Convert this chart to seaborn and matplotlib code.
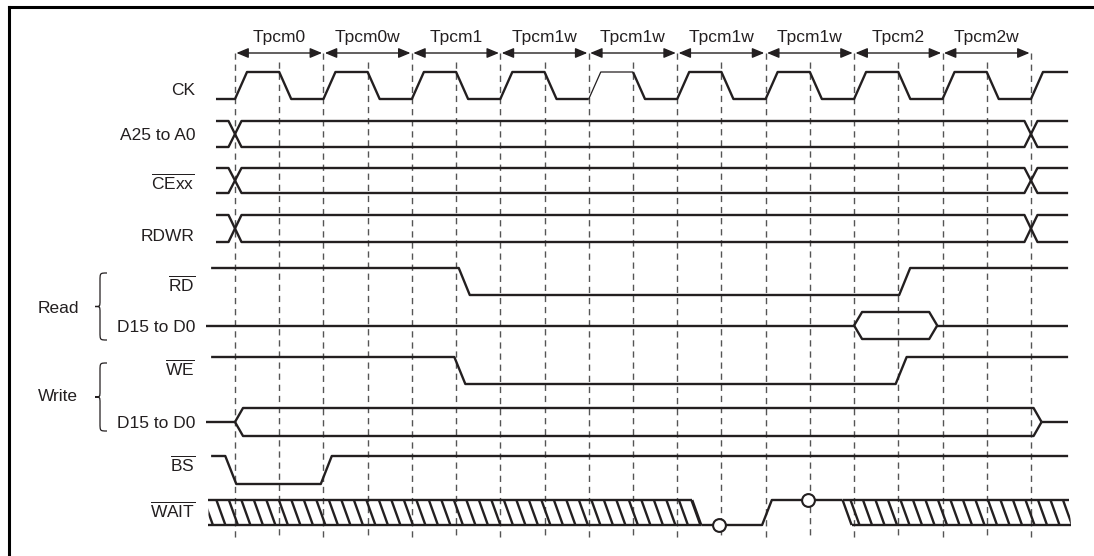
import matplotlib
matplotlib.use("Agg")
import matplotlib.pyplot as plt
from matplotlib.path import Path
from matplotlib.patches import PathPatch, Polygon
import numpy as np
import seaborn as sns

# ---- timing data (time in bus cycles, 0 = start of Tpcm0) ----
cycle_names = ["Tpcm0", "Tpcm0w", "Tpcm1", "Tpcm1w", "Tpcm1w",
               "Tpcm1w", "Tpcm1w", "Tpcm2", "Tpcm2w"]
cycle_starts = [0.0, 1.0, 2.0, 3.0, 4.0, 5.0, 6.0, 7.0, 8.0, 9.0]
half_marks = [0.5, 1.5, 2.5, 3.5, 4.5, 5.5, 6.5, 7.5, 8.5]

ck_edges = [0.0, 0.5, 1.0, 1.5, 2.0, 2.5, 3.0, 3.5, 4.0, 4.5,
            5.0, 5.5, 6.0, 6.5, 7.0, 7.5, 8.0, 8.5, 9.0]
ck_thin = (4.0, 4.5)          # faint pulse in the 3rd Tpcm1w

bus_cross = [0.0, 9.0]        # A25-A0, CExx, RDWR change here
rd_edges = [2.53, 7.51]
we_edges = [2.48, 7.47]
bs_edges = [-0.11, 0.97]
read_data_valid = (7.0, 7.94)
write_data_valid = (0.0, 9.12)

wait_hatch = [(-0.3, 5.17), (6.87, 9.43)]
wait_low = (5.26, 5.96)
wait_high = (6.07, 6.87)
wait_sample_t = [5.47, 6.48]
wait_sample_level = [0, 1]

signal_labels = ["CK", "A25 to A0", r"$\overline{\mathrm{CExx}}$", "RDWR",
                 r"$\overline{\mathrm{RD}}$", "D15 to D0",
                 r"$\overline{\mathrm{WE}}$", "D15 to D0",
                 r"$\overline{\mathrm{BS}}$", r"$\overline{\mathrm{WAIT}}$"]
group_labels = ["Read", "Write"]

# ---- layout (pixels) ----
W, H = 1094, 556
X0, PITCH = 235, 88.44        # pixel of t=0 and pixels per cycle
PX = 1 / PITCH
rows = {"CK": (72, 99), "A": (121, 147), "CE": (168, 193), "RDWR": (215, 242),
        "RD": (268, 295), "RDATA": (312, 339), "WE": (357, 384),
        "WDATA": (408, 436), "BS": (456, 484), "WAIT": (500, 525)}
label_base = [95, 140, 189, 241, 291, 332, 375, 428, 471, 517]
INK = "#231f20"
LW = 1.7
SLEW = 11 * PX

sns.set_theme(style="white")
plt.rcParams["font.family"] = ["Liberation Sans", "DejaVu Sans"]
plt.rcParams["mathtext.fontset"] = "custom"
plt.rcParams["mathtext.rm"] = "Liberation Sans"
plt.rcParams["lines.solid_capstyle"] = "butt"

fig = plt.figure(figsize=(W / 100, H / 100), dpi=100)
ax = fig.add_axes([0, 0, 1, 1])
ax.set_xlim(-X0 * PX, (W - X0) * PX)
ax.set_ylim(H, 0)
ax.axis("off")
ov = fig.add_axes([0, 0, 1, 1], facecolor="none")
ov.set_xlim(0, W)
ov.set_ylim(H, 0)
ov.axis("off")


def trace(xs, ys, lw=LW):
    sns.lineplot(x=xs, y=ys, ax=ax, sort=False, estimator=None,
                 color=INK, linewidth=lw, legend=False)


def step(edges, level, t0, t1, row, slew=SLEW):
    hi, lo = rows[row]
    xs, ys = [t0], [level]
    for e in edges:
        xs += [e, e + slew]
        ys += [level, 1 - level]
        level = 1 - level
    xs.append(t1)
    ys.append(level)
    return xs, [lo - l * (lo - hi) for l in ys]


def bus(cross, t0, t1, row, half=6.5 * PX):
    hi, lo = rows[row]
    for side in (hi, lo):
        xs, ys = [t0], [side]
        for c in cross:
            other = lo if side == hi else hi
            xs += [c - half, c + half]
            ys += [side, other]
            side = other
        xs.append(t1)
        ys.append(side)
        trace(xs, ys)


def window(p, q, t0, t1, row, w=8 * PX):
    hi, lo = rows[row]
    mid = (hi + lo) / 2
    trace([t0, p], [mid, mid])
    for side in (hi, lo):
        trace([p, p + w, q - w, q], [mid, side, side, mid])
    trace([q, t1], [mid, mid])


# cycle dimension arrows and grid
for i, name in enumerate(cycle_names):
    a, b = cycle_starts[i], cycle_starts[i + 1]
    ax.annotate("", xy=(b, 53), xytext=(a, 53),
                arrowprops=dict(arrowstyle="<|-|>,head_length=0.6,head_width=0.25",
                                color=INK, lw=1.0, shrinkA=1, shrinkB=1,
                                mutation_scale=12))
    ax.text((a + b) / 2, 42, name, ha="center", va="baseline",
            fontsize=12.5, color=INK)
ax.vlines(cycle_starts, 53, 538, colors="#555555", lw=1.0,
          linestyles=(0, (4.5, 3.5)), zorder=1)
ax.vlines(half_marks, 62, 538, colors="#555555", lw=1.0,
          linestyles=(0, (4.5, 3.5)), zorder=1)

T_START, T_END = -0.215, 9.42

# CK
xs, ys = step(ck_edges, 0, T_START, T_END, "CK", slew=12 * PX)
xs, ys = np.array(xs), np.array(ys)
a_idx = xs <= ck_thin[0]
t_idx = (xs >= ck_thin[0]) & (xs <= ck_thin[1])
b_idx = xs >= ck_thin[1]
trace(xs[a_idx], ys[a_idx])
trace(xs[t_idx], ys[t_idx], lw=0.9)
trace(xs[b_idx], ys[b_idx])

# buses
for r in ("A", "CE", "RDWR"):
    bus(bus_cross, T_START, T_END, r)

# strobes
trace(*step(rd_edges, 1, -0.27, T_END, "RD"))
trace(*step(we_edges, 1, -0.27, T_END, "WE"))
trace(*step(bs_edges, 1, -0.27, T_END, "BS"))

# data
window(*read_data_valid, -0.33, T_END, "RDATA")
window(*write_data_valid, -0.33, T_END, "WDATA")

# WAIT
hi, lo = rows["WAIT"]
slant = 9 * PX
pitch = 12.5 * PX
for k, (s, e) in enumerate(wait_hatch):
    if k == 0:
        poly = [(s, hi), (e, hi), (e + slant, lo), (s, lo)]
        trace([s, e], [hi, hi])
        trace([s, e + slant], [lo, lo])
        trace([e, e + slant], [hi, lo])
    else:
        poly = [(s, hi), (e, hi), (e + 2 * PX, lo), (s + slant, lo)]
        trace([s, e], [hi, hi])
        trace([s + slant, e + 2 * PX], [lo, lo])
        trace([s, s + slant], [hi, lo])
    clip = Polygon(poly, closed=True, facecolor="none", edgecolor="none",
                   transform=ax.transData)
    ax.add_patch(clip)
    for x in np.arange(s - slant, e + slant, pitch):
        ln, = ax.plot([x + 0.05, x + 0.05 + slant], [hi, lo], color=INK, lw=LW)
        ln.set_clip_path(clip)
trace([wait_hatch[0][1] + slant, wait_low[1], wait_high[0], wait_high[1]],
      [lo, lo, hi, hi])
ax.scatter(wait_sample_t, [lo - l * (lo - hi) for l in wait_sample_level],
           s=85, facecolor="white", edgecolor=INK, linewidth=1.5, zorder=5)

# signal names
for lab, yb in zip(signal_labels, label_base):
    ov.text(195, yb, lab, ha="right", va="baseline", fontsize=12.5, color=INK)
ov.text(38, 313, group_labels[0], ha="left", va="baseline", fontsize=12.5, color=INK)
ov.text(38, 401, group_labels[1], ha="left", va="baseline", fontsize=12.5, color=INK)


def brace(y0, y1, xr=107, xm=100, xt=95):
    ym = (y0 + y1) / 2
    verts = [(xr, y0), (xm, y0), (xm, y0), (xm, y0 + 8),
             (xm, ym - 6),
             (xm, ym), (xm, ym), (xt, ym),
             (xm, ym), (xm, ym), (xm, ym + 6),
             (xm, y1 - 8),
             (xm, y1), (xm, y1), (xr, y1)]
    codes = [Path.MOVETO, Path.CURVE4, Path.CURVE4, Path.CURVE4,
             Path.LINETO,
             Path.CURVE4, Path.CURVE4, Path.CURVE4,
             Path.CURVE4, Path.CURVE4, Path.CURVE4,
             Path.LINETO,
             Path.CURVE4, Path.CURVE4, Path.CURVE4]
    ov.add_patch(PathPatch(Path(verts, codes), facecolor="none",
                           edgecolor=INK, lw=0.9))


brace(273, 340)
brace(363, 431)

# frame
ov.plot([8.5, 8.5], [7, H], color="black", lw=2.2, solid_capstyle="projecting")
ov.plot([8.5, W], [7.3, 7.3], color="black", lw=2.2, solid_capstyle="projecting")

fig.savefig("out.png", dpi=100)
